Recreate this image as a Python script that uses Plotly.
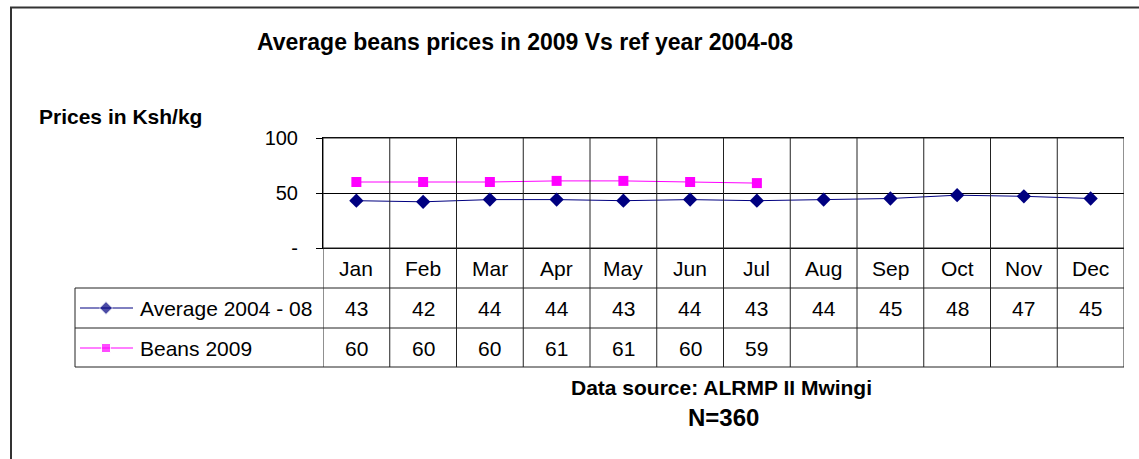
import plotly.graph_objects as go

months = ["Jan", "Feb", "Mar", "Apr", "May", "Jun", "Jul", "Aug", "Sep", "Oct", "Nov", "Dec"]
avg_2004_08 = [43, 42, 44, 44, 43, 44, 43, 44, 45, 48, 47, 45]
beans_2009 = [60, 60, 60, 61, 61, 60, 59, None, None, None, None, None]
series_names = ["Average 2004 - 08", "Beans 2009"]
y_ticks = [0, 50, 100]
y_tick_labels = ["-", "50", "100"]

W, H = 1139, 459
FONT = "Arial, Liberation Sans, sans-serif"
NAVY = "#000080"
MAGENTA = "#FF00FF"


def px(x):
    return x / W


def py(y):
    return 1 - y / H


# layout positions (pixels)
PL, PR, PT, PB = 323, 1124, 138, 248
ROW_MONTH, ROW_AVG, ROW_BEANS = 268, 308, 348
TABLE_BOTTOM = 367
TABLE_LEFT = 75

fig = go.Figure()

fig.add_trace(go.Scatter(
    x=months, y=avg_2004_08, mode="lines+markers", name=series_names[0],
    line=dict(color=NAVY, width=1), marker=dict(symbol="diamond", size=11, color=NAVY),
    showlegend=False, hoverinfo="x+y", cliponaxis=False))
fig.add_trace(go.Scatter(
    x=months, y=beans_2009, mode="lines+markers", name=series_names[1],
    line=dict(color=MAGENTA, width=1), marker=dict(symbol="square", size=10, color=MAGENTA),
    showlegend=False, connectgaps=False, hoverinfo="x+y", cliponaxis=False))

# legend samples in table (pixel-space overlay axes)
fig.add_trace(go.Scatter(
    x=[80, 106, 133], y=[ROW_AVG, ROW_AVG, ROW_AVG], xaxis="x2", yaxis="y2",
    mode="lines+markers", line=dict(color=NAVY, width=1),
    marker=dict(symbol="diamond", size=[0, 10, 0], color=NAVY), showlegend=False, hoverinfo="skip"))
fig.add_trace(go.Scatter(
    x=[80, 106, 133], y=[ROW_BEANS, ROW_BEANS, ROW_BEANS], xaxis="x2", yaxis="y2",
    mode="lines+markers", line=dict(color=MAGENTA, width=1),
    marker=dict(symbol="square", size=[0, 9, 0], color=MAGENTA), showlegend=False, hoverinfo="skip"))

shapes = []
LINE = dict(color="#222222", width=1)
# top and bottom edges of the plot area (values 100 and 0)
for yy in [PT, PB]:
    shapes.append(dict(type="line", xref="paper", yref="paper", x0=px(PL), x1=px(PR),
                       y0=py(yy), y1=py(yy), line=LINE))
# vertical category boundaries through plot and table
for i in range(len(months) + 1):
    shapes.append(dict(type="line", xref="x", yref="paper", x0=i - 0.5, x1=i - 0.5,
                       y0=py(PT), y1=py(TABLE_BOTTOM), line=LINE))
# horizontal table lines
for yy in [ROW_MONTH + 20, ROW_AVG + 20, TABLE_BOTTOM]:
    shapes.append(dict(type="line", xref="paper", yref="paper", x0=px(TABLE_LEFT), x1=px(PR),
                       y0=py(yy), y1=py(yy), line=LINE))
shapes.append(dict(type="line", xref="paper", yref="paper", x0=px(TABLE_LEFT), x1=px(TABLE_LEFT),
                   y0=py(ROW_MONTH + 20), y1=py(TABLE_BOTTOM), line=LINE))
# outer chart border (top and left edges visible)
BORDER = dict(color="#333333", width=2)
shapes.append(dict(type="line", xref="paper", yref="paper", x0=px(10), x1=1,
                   y0=py(7.5), y1=py(7.5), line=BORDER))
shapes.append(dict(type="line", xref="paper", yref="paper", x0=px(11), x1=px(11),
                   y0=0, y1=py(7.5), line=BORDER))

annotations = []
TXT = dict(family=FONT, size=21, color="black")
for m in months:
    annotations.append(dict(x=m, xref="x", y=py(ROW_MONTH), yref="paper", text=m,
                            showarrow=False, font=TXT, xanchor="center", yanchor="middle"))
for m, v in zip(months, avg_2004_08):
    annotations.append(dict(x=m, xref="x", y=py(ROW_AVG), yref="paper", text=str(v),
                            showarrow=False, font=TXT, xanchor="center", yanchor="middle"))
for m, v in zip(months, beans_2009):
    if v is not None:
        annotations.append(dict(x=m, xref="x", y=py(ROW_BEANS), yref="paper", text=str(v),
                                showarrow=False, font=TXT, xanchor="center", yanchor="middle"))
annotations.append(dict(x=px(138), y=py(ROW_AVG), xref="paper", yref="paper", text=series_names[0],
                        showarrow=False, font=TXT, xanchor="left", yanchor="middle"))
annotations.append(dict(x=px(138), y=py(ROW_BEANS), xref="paper", yref="paper", text=series_names[1],
                        showarrow=False, font=TXT, xanchor="left", yanchor="middle"))

BOLD = dict(family=FONT, size=21, color="black", weight="bold")
annotations.append(dict(x=px(525), y=py(42), xref="paper", yref="paper",
                        text="Average beans prices in 2009 Vs ref year 2004-08",
                        showarrow=False, font=dict(BOLD, size=23), xanchor="center", yanchor="middle"))
annotations.append(dict(x=px(37), y=py(117), xref="paper", yref="paper", text="Prices in Ksh/kg",
                        showarrow=False, font=BOLD, xanchor="left", yanchor="middle"))
annotations.append(dict(x=px(721), y=py(387), xref="paper", yref="paper",
                        text="Data source: ALRMP II Mwingi",
                        showarrow=False, font=BOLD, xanchor="center", yanchor="middle"))
annotations.append(dict(x=px(723), y=py(417), xref="paper", yref="paper", text="N=360",
                        showarrow=False, font=dict(BOLD, size=24), xanchor="center", yanchor="middle"))

fig.update_layout(
    width=W, height=H,
    margin=dict(l=0, r=0, t=0, b=0, autoexpand=False),
    paper_bgcolor="white", plot_bgcolor="rgba(0,0,0,0)",
    showlegend=False,
    xaxis=dict(type="category", categoryorder="array", categoryarray=months,
               range=[-0.5, len(months) - 0.5], domain=[px(PL), px(PR)],
               showticklabels=False, ticks="", showgrid=False, zeroline=False,
               showline=True, mirror=True, linecolor="black", linewidth=1,
               fixedrange=True, automargin=False),
    yaxis=dict(range=[0, 100], domain=[py(PB), py(PT)], tickvals=y_ticks, ticktext=y_tick_labels,
               ticks="outside", ticklen=6, tickcolor="black", showline=True, linecolor="black",
               linewidth=1, showgrid=True, gridcolor="black", gridwidth=1, zeroline=False,
               tickfont=dict(family=FONT, size=20, color="black"), ticklabelstandoff=14,
               fixedrange=True, automargin=False),
    xaxis2=dict(domain=[0, 1], range=[0, W], visible=False, anchor="y2", fixedrange=True,
                automargin=False),
    yaxis2=dict(domain=[0, 1], range=[H, 0], visible=False, anchor="x2", fixedrange=True,
                automargin=False),
    shapes=shapes,
    annotations=annotations,
)

post = ("document.body.style.margin='0';document.body.style.overflow='hidden';"
        "var gd=document.getElementById('{plot_id}');gd.style.position='fixed';"
        "gd.style.left='0px';gd.style.top='0px';")
fig.write_html("out.html", post_script=post, config={"displayModeBar": False})
